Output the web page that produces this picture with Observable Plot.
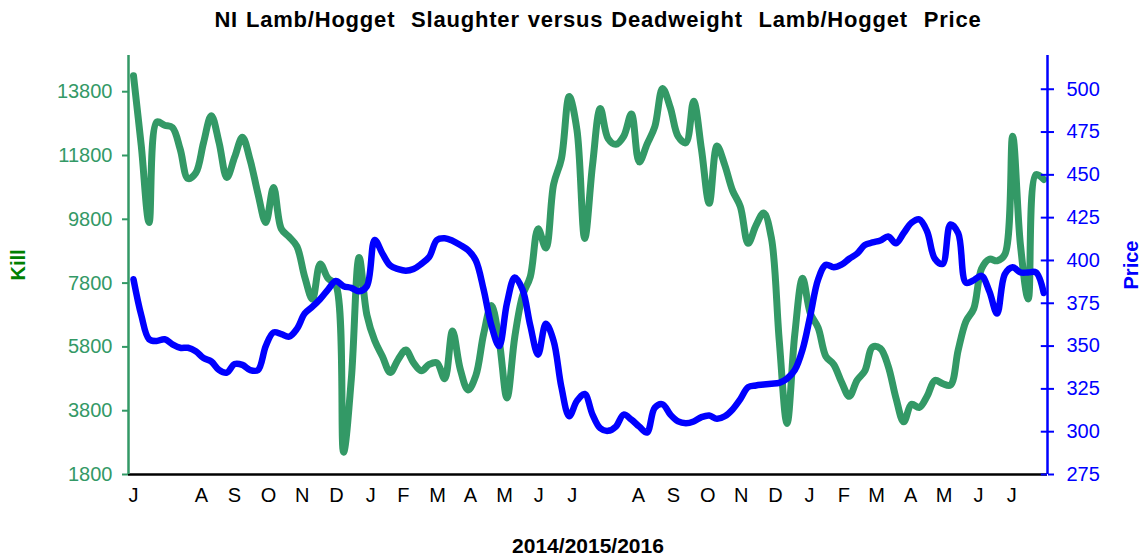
<!DOCTYPE html>
<html><head><meta charset="utf-8">
<script src="https://cdn.jsdelivr.net/npm/d3@7"></script>
<script src="https://cdn.jsdelivr.net/npm/@observablehq/plot@0.6"></script>
<style>
body{margin:0;background:#fff;font-family:"Liberation Sans",Arial,sans-serif;}
#wrap{position:relative;width:1144px;height:558px;overflow:hidden;background:#fff;}
#title{position:absolute;top:7px;left:0;width:1196px;text-align:center;font-weight:bold;font-size:22px;line-height:26px;letter-spacing:0.8px;word-spacing:1px;white-space:pre;color:#000;}
#chart{position:absolute;top:40px;left:0;}
#xlab{position:absolute;top:534px;left:0;width:1176px;text-align:center;font-weight:bold;font-size:21px;line-height:24px;color:#000;}
</style></head>
<body>
<div id="wrap">
<div id="title">NI Lamb/Hogget  Slaughter versus Deadweight  Lamb/Hogget  Price</div>
<div id="chart"></div>
<div id="xlab">2014/2015/2016</div>
</div>
<script>
// weekly observations, week index 0..117
const kill = [
14300,12100,9700,12850,12750,12680,12000,11080,11250,12200,
13050,12200,11110,11750,12370,11650,10600,9700,10800,9500,
9250,8950,8000,7300,8400,7950,7750,2500,4800,8600,
6800,6000,5500,5000,5400,5700,5300,5050,5250,5300,
4800,6300,5100,4450,4900,6200,7100,6000,4200,6100,
7400,8000,9500,8900,10900,11700,13650,12600,9200,11500,
13270,12330,12150,12400,13100,11600,12150,12700,13900,13300,
12400,12200,13500,12000,10300,12100,11500,10700,10200,9050,
9600,10000,9200,6000,3400,6200,7950,6850,6400,5500,
5250,4700,4250,4750,5050,5800,5750,5200,4200,3450,
4000,3900,4250,4750,4650,4600,5700,6600,7000,8250,
8550,8500,8700,12400,9000,7300,11200,11050
];
const price = [
389,368,354,353,354,351,349,349,347,343,
341,336,334.5,339.5,339,336,336,350,358,357,
355.5,360,369,373,377.5,383,388,385,384,382,
385,412,404,397,395,394,395,398,402,412,
413,411.5,409,406,400,383,362,350,375,390,
383,362,345,363,353,326,309,318,322,310,
302,300.5,303,310,307,303,299.5,314,316,310,
306,305,306,308.5,309.5,307.5,309,313,319,326,
327,327.5,328,328.5,331,336,348,368,389,397.5,
396,397.5,401,404,409,410.5,411.7,414,410,416,
422,424,417,401,398,421,416,387,388.5,391,
382,369,392,396,393,393,393,381
];
const monthTickWeeks = [0,8.74,12.98,17.35,21.7,26.1,30.5,34.7,39.1,43.3,47.7,52.1,56.4,64.9,69.4,73.8,78.1,82.5,86.9,91.3,95.5,99.9,104.2,108.6,112.9];
const monthLabels = ["J","A","S","O","N","D","J","F","M","A","M","J","J","A","S","O","N","D","J","F","M","A","M","J","J"];
const killTicks = [1800,3800,5800,7800,9800,11800,13800];
const priceTicks = [275,300,325,350,375,400,425,450,475,500];

const K0 = 1800, K1 = 14935, P0 = 275, P1 = 519.7;
const toK = p => K0 + (p - P0) * (K1 - K0) / (P1 - P0);
const toP = k => P0 + (k - K0) * (P1 - P0) / (K1 - K0);
const X0 = -0.643, X1 = 117.48;

const rows = kill.map((k, i) => ({week: i, kill: k, price: price[i]}));
const ticksX = monthTickWeeks.map((w, i) => ({week: w, label: monthLabels[i]}));

const GREEN = "#339966", BLUE = "#0000ff";

const chart = Plot.plot({
  width: 1144, height: 480,
  marginTop: 15, marginBottom: 46, marginLeft: 128, marginRight: 97,
  x: {domain: [X0, X1], axis: null},
  y: {domain: [K0, K1], axis: null},
  style: {fontFamily: "'Liberation Sans', Arial, sans-serif", fontSize: "20px", background: "white", overflow: "visible"},
  marks: [
    Plot.line(rows, {x: "week", y: "kill", stroke: GREEN, strokeWidth: 7, curve: "catmull-rom"}),
    Plot.line(rows, {x: "week", y: d => toK(d.price), stroke: BLUE, strokeWidth: 6.5, curve: "catmull-rom"}),
    Plot.ruleY([K0], {stroke: "#000", strokeWidth: 2.5}),
    Plot.ruleX([X0], {stroke: GREEN, strokeWidth: 2.5}),
    Plot.ruleX([X1], {stroke: BLUE, strokeWidth: 2.5}),
    Plot.axisY(killTicks, {anchor: "left", tickSize: 6, tickPadding: 10, strokeWidth: 2, stroke: GREEN, fill: GREEN, fontSize: 20, tickFormat: d => String(d), label: null}),
    Plot.axisY(priceTicks.map(toK), {anchor: "right", tickSize: 6, tickPadding: 13, strokeWidth: 2, stroke: BLUE, fill: BLUE, fontSize: 20, tickFormat: k => String(Math.round(toP(k))), label: null}),
    Plot.ruleY(priceTicks.map(toK), {x1: X1 - 0.8, x2: X1, stroke: BLUE, strokeWidth: 2}),
    Plot.text(ticksX, {x: "week", text: "label", frameAnchor: "bottom", dy: 27, fontSize: 20, fill: "#000"}),
    Plot.text(["Kill"], {frameAnchor: "left", textAnchor: "middle", dx: -110, rotate: -90, fontWeight: "bold", fontSize: 20, fill: "#008000"}),
    Plot.text(["Price"], {frameAnchor: "right", textAnchor: "middle", dx: 84, rotate: -90, fontWeight: "bold", fontSize: 20, fill: BLUE})
  ]
});
document.getElementById("chart").appendChild(chart);
</script>
</body></html>
